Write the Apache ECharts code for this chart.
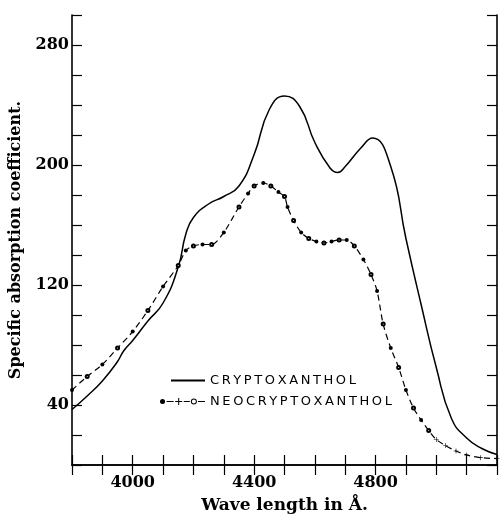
<!DOCTYPE html>
<html>
<head>
<meta charset="utf-8">
<title>Cryptoxanthol</title>
<script src="https://cdn.jsdelivr.net/npm/echarts@6/dist/echarts.min.js"></script>
<style>
    html, body { margin: 0; padding: 0; background: #fff; }
    #main { width: 500px; height: 519px; }
</style>
</head>
<body>
<div id="main"></div>
<script>
// values (wave length in A, specific absorption coefficient)
var cryptoWave = [3800, 3850, 3900, 3950, 3970, 4000, 4050, 4100, 4150, 4175, 4200, 4250, 4300, 4350, 4400, 4450, 4500, 4550, 4600, 4650, 4675, 4700, 4750, 4790, 4850, 4900, 4950, 5000, 5050, 5100, 5150, 5200];
var cryptoVal  = [37, 46, 56, 69, 76, 83, 96, 108, 132, 154, 165, 174, 179, 186, 207, 237, 246, 239, 215, 198, 195, 199, 211, 218, 199, 151, 107, 65, 31, 18, 11, 7];

var neoWave = [3800, 3850, 3900, 3950, 4000, 4050, 4100, 4150, 4175, 4200, 4230, 4260, 4300, 4350, 4380, 4400, 4430, 4455, 4480, 4500, 4510, 4530, 4555, 4580, 4605, 4630, 4655, 4680, 4705, 4730, 4760, 4785, 4805, 4825, 4850, 4876, 4900, 4925, 4950, 4975, 5000, 5030, 5065, 5100, 5145, 5200];
var neoVal  = [50, 59, 67, 78, 89, 103, 119, 133, 143, 146, 147, 147, 155, 172, 181, 186, 188, 186, 182, 179, 172, 163, 155, 151, 149, 148, 149, 150, 150, 146, 137, 127, 116, 94, 78, 65, 50, 38, 30, 23, 17, 13, 9.3, 6.7, 4.9, 4.3];

var xLabels = [4000, 4400, 4800];
var yLabels = [40, 120, 200, 280];

var seriesNames = ['CRYPTOXANTHOL', 'NEOCRYPTOXANTHOL'];

var serif = 'DejaVu Serif';
var plusPath = 'path://M0,4.4H10V5.6H0Z M4.4,0H5.6V10H4.4Z';
// legend sample: dot - plus - ring
var neoIcon = 'path://M0.5,4a2.5,2.5 0 1 0 5,0a2.5,2.5 0 1 0 -5,0z M7,3.5h7v1h-7z M15.5,3.5h7v1h-7z M18.5,0.5h1v7h-1z M24,3.5h6v1h-6z M31,4a3,3 0 1 0 6,0a3,3 0 1 0 -6,0z M32,4a2,2 0 1 1 4,0a2,2 0 1 1 -4,0z M38,3.5h7v1h-7z';

var cryptoData = cryptoWave.map(function (w, i) { return [w, cryptoVal[i]]; });
var neoData = neoWave.map(function (w, i) {
    if (w >= 5000) {
        return { value: [w, neoVal[i]], symbol: plusPath, symbolSize: 5 };
    }
    if (i % 2) {
        return { value: [w, neoVal[i]], symbol: 'emptyCircle', symbolSize: 3,
                 itemStyle: { borderWidth: 0.8 } };
    }
    return { value: [w, neoVal[i]], symbol: 'circle', symbolSize: 4 };
});

// the printed legend is letter-spaced
function spaced(name) { return name.split('').join('\u2009'); }

var myChart = echarts.init(document.getElementById('main'));

var axisCommon = {
    type: 'value',
    axisLine: { show: true, lineStyle: { color: '#000', width: 1.6 } },
    axisTick: { show: true, inside: true, length: 10, lineStyle: { color: '#000', width: 1.2 } },
    splitLine: { show: false }
};

var legendText = { color: '#000', fontFamily: 'DejaVu Sans', fontSize: 13 };

var option = {
    animation: false,
    backgroundColor: '#fff',
    grid: { left: 71, right: 1, top: 15, bottom: 50 },
    legend: [
        {
            data: [seriesNames[0]],
            left: 170, top: 374,
            padding: 0,
            itemWidth: 34, itemHeight: 10,
            itemStyle: { opacity: 0 },
            formatter: spaced,
            textStyle: legendText
        },
        {
            data: [{ name: seriesNames[1], icon: neoIcon }],
            left: 160, top: 395,
            padding: 0,
            itemWidth: 45, itemHeight: 8,
            itemStyle: { color: '#000', borderWidth: 0 },
            formatter: spaced,
            textStyle: legendText
        }
    ],
    xAxis: [
        Object.assign({}, axisCommon, {
            position: 'bottom',
            min: 3800, max: 5200, interval: 100,
            name: 'Wave length in Å.',
            nameLocation: 'middle',
            nameGap: 32,
            nameTextStyle: { color: '#000', fontFamily: serif, fontWeight: 'bold', fontSize: 17 },
            axisLabel: {
                color: '#000', fontFamily: serif, fontWeight: 'bold', fontSize: 16, margin: 10,
                formatter: function (v) { return xLabels.indexOf(v) >= 0 ? String(v) : ''; }
            }
        }),
        Object.assign({}, axisCommon, {
            position: 'top',
            min: 3800, max: 5200, interval: 100,
            axisLabel: { show: false }
        })
    ],
    yAxis: [
        Object.assign({}, axisCommon, {
            position: 'left',
            min: 0, max: 300, interval: 20,
            name: 'Specific absorption coefficient.',
            nameLocation: 'middle',
            nameRotate: 90,
            nameGap: 48,
            nameTextStyle: { color: '#000', fontFamily: serif, fontWeight: 'bold', fontSize: 16 },
            axisLabel: {
                color: '#000', fontFamily: serif, fontWeight: 'bold', fontSize: 16, margin: 3,
                formatter: function (v) { return yLabels.indexOf(v) >= 0 ? String(v) : ''; }
            }
        }),
        Object.assign({}, axisCommon, {
            position: 'right',
            min: 0, max: 300, interval: 20,
            axisLabel: { show: false }
        })
    ],
    series: [
        {
            name: seriesNames[0],
            type: 'line',
            data: cryptoData,
            smooth: true,
            symbol: 'none',
            lineStyle: { color: '#000', width: 1.5 },
            itemStyle: { color: '#000' }
        },
        {
            name: seriesNames[1],
            type: 'line',
            data: neoData,
            smooth: 0.3,
            lineStyle: { color: '#000', width: 1.2, type: [6, 4] },
            itemStyle: { color: '#000', borderWidth: 0.8 }
        }
    ]
};

myChart.setOption(option);
</script>
</body>
</html>
